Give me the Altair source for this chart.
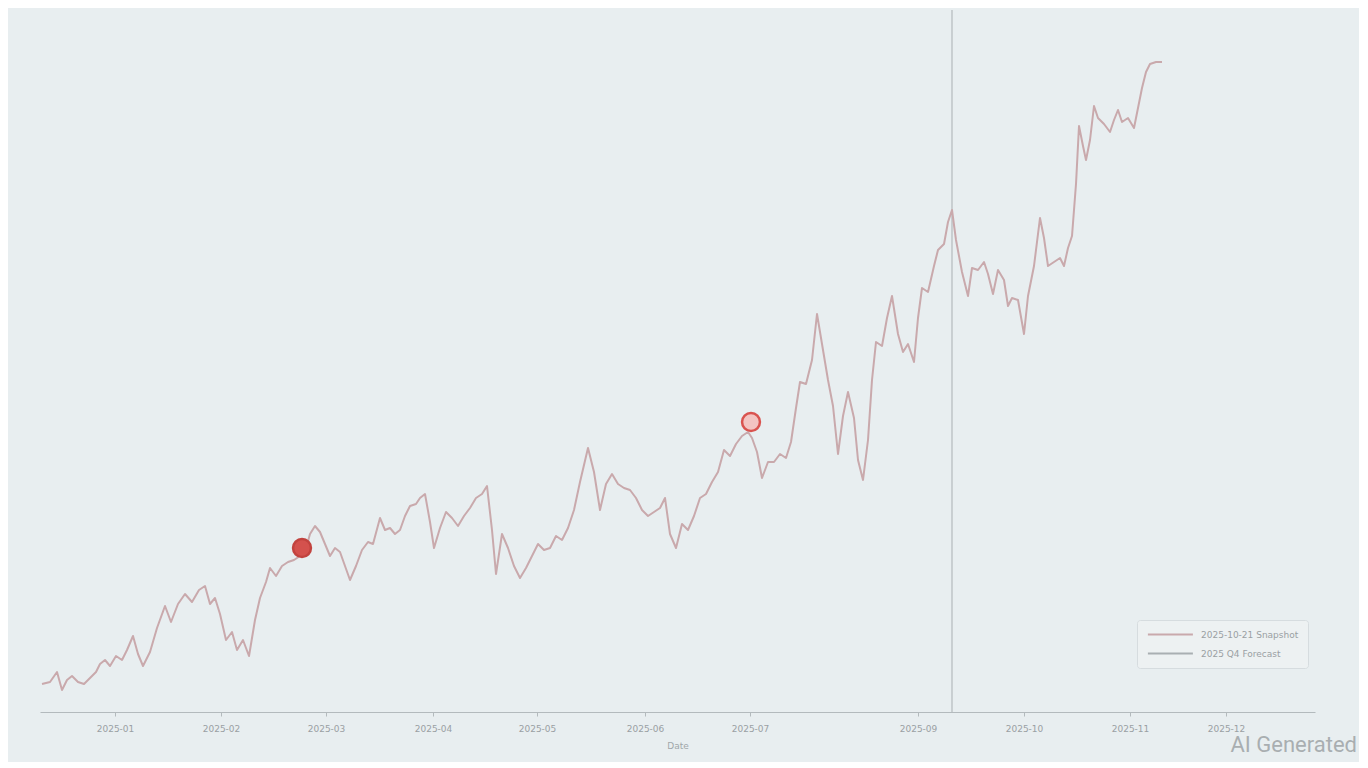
import altair as alt
import pandas as pd

# Series (x = day index, y = level)
xs = [2, 10, 17, 22, 27, 32, 38, 44, 50, 56, 60, 65, 70, 76, 82, 87, 93, 98, 103, 110,
      117, 125, 131, 138, 145, 152, 159, 165, 170, 175, 180, 186, 192, 197, 203, 209, 215, 220, 226, 230,
      236, 242, 248, 254, 260, 265, 270, 275, 280, 285, 290, 295, 300, 305, 310, 316, 322, 328, 333, 340,
      345, 350, 355, 360, 365, 370, 376, 380, 385, 390, 394, 400, 406, 412, 418, 424, 430, 436, 442, 447,
      452, 456, 462, 468, 474, 480, 486, 492, 498, 504, 510, 516, 522, 528, 534, 540, 548, 554, 560, 566,
      572, 578, 584, 590, 596, 602, 608, 614, 620, 625, 630, 636, 642, 648, 654, 660, 666, 672, 678, 684,
      690, 696, 702, 708, 712, 717, 722, 728, 734, 740, 746, 751, 756, 760, 766, 772, 777, 782, 788, 793,
      798, 803, 808, 814, 818, 823, 828, 832, 836, 842, 847, 852, 858, 863, 868, 874, 878, 882, 888, 894,
      898, 904, 908, 912, 916, 922, 928, 932, 938, 944, 948, 953, 958, 964, 968, 972, 978, 984, 988, 994,
      1000, 1004, 1008, 1014, 1020, 1024, 1028, 1032, 1036, 1039, 1043, 1046, 1050, 1054, 1058, 1064, 1070, 1074, 1078, 1082,
      1088, 1094, 1098, 1102, 1106, 1110, 1116, 1122]
ys = [28, 30, 40, 22, 32, 36, 30, 28, 34, 40, 48, 52, 46, 56, 52, 62, 76, 58, 46, 60,
      84, 106, 90, 108, 118, 110, 122, 126, 108, 114, 98, 72, 80, 62, 72, 56, 92, 114, 130, 144,
      136, 146, 150, 152, 156, 160, 178, 186, 180, 168, 156, 164, 160, 146, 132, 146, 162, 170, 168, 194,
      182, 184, 178, 182, 196, 206, 208, 214, 218, 190, 164, 184, 200, 194, 186, 196, 204, 214, 218, 226,
      182, 138, 178, 164, 146, 134, 144, 156, 168, 162, 164, 176, 172, 184, 202, 230, 264, 240, 202, 228,
      238, 228, 224, 222, 214, 202, 196, 200, 204, 214, 178, 164, 188, 182, 196, 214, 218, 230, 240, 262,
      256, 268, 276, 280, 274, 260, 234, 250, 250, 258, 254, 270, 304, 330, 328, 352, 398, 368, 332, 306,
      258, 296, 320, 294, 252, 232, 272, 332, 370, 366, 394, 416, 378, 360, 368, 350, 394, 424, 420, 446,
      462, 468, 490, 502, 472, 440, 416, 444, 442, 450, 438, 418, 442, 432, 406, 414, 412, 378, 416, 446,
      494, 474, 446, 450, 454, 446, 464, 476, 528, 586, 566, 552, 572, 606, 594, 588, 580, 592, 602, 590,
      594, 584, 604, 624, 640, 648, 650, 650]

marker_x = [262, 711]
marker_y = [164, 290]
marker_kind = ["filled", "ring"]

event_x = [912]

tick_values = [75, 181, 286, 393, 497, 605, 710, 878, 984, 1090, 1186]
tick_labels = ["2025-01", "2025-02", "2025-03", "2025-04", "2025-05", "2025-06",
               "2025-07", "2025-09", "2025-10", "2025-11", "2025-12"]

series_names = ["2025-10-21 Snapshot", "2025 Q4 Forecast"]

line_df = pd.DataFrame({"x": xs, "y": ys, "series": series_names[0]})
marker_df = pd.DataFrame({"x": marker_x, "y": marker_y, "kind": marker_kind})
rule_df = pd.DataFrame({"x": event_x, "series": series_names[1]})

label_map = "{" + ",".join(f"'{v}':'{l}'" for v, l in zip(tick_values, tick_labels)) + "}"

xscale = alt.Scale(domain=[0, 1275], nice=False, zero=False)
yscale = alt.Scale(domain=[0, 702], nice=False, zero=False)
color_scale = alt.Scale(domain=series_names, range=["#c9a9ac", "#a9afb2"])

line = alt.Chart(line_df).mark_line(strokeWidth=2, strokeJoin="round").encode(
    x=alt.X("x:Q", scale=xscale, title="Date",
            axis=alt.Axis(values=tick_values, labelExpr=f"{label_map}[datum.value]",
                          grid=False, domainColor="#b3babd", tickColor="#b3babd",
                          tickSize=4, labelColor="#9aa0a3", labelFontSize=9,
                          labelPadding=8, titleColor="#a0a6a9", titleFontSize=9,
                          titleFontWeight="normal", titlePadding=8)),
    y=alt.Y("y:Q", scale=yscale, axis=None),
    color=alt.Color("series:N", scale=color_scale,
                    legend=alt.Legend(title=None, orient="none", legendX=1097, legendY=610,
                                      symbolType="M-0.8,0L9.2,0", symbolSize=81, symbolStrokeWidth=2,
                                      labelOffset=44,
                                      labelFontSize=9, labelColor="#9aa0a3",
                                      padding=9, strokeColor="#d6dcdf", fillColor="#edf1f2",
                                      cornerRadius=3, rowPadding=8)),
)

rule = alt.Chart(rule_df).mark_rule(strokeWidth=1).encode(
    x="x:Q",
    color=alt.Color("series:N", scale=color_scale),
)

markers = alt.Chart(marker_df).mark_point(filled=True, size=320, strokeWidth=2.5, opacity=1).encode(
    x="x:Q",
    y="y:Q",
    fill=alt.Fill("kind:N", scale=alt.Scale(domain=["filled", "ring"], range=["#d4514d", "#f3c4c2"]), legend=None),
    stroke=alt.Stroke("kind:N", scale=alt.Scale(domain=["filled", "ring"], range=["#c2433f", "#d9534f"]), legend=None),
)

watermark = alt.Chart(pd.DataFrame({"t": ["AI Generated"]})).mark_text(
    align="right", baseline="middle", fontSize=22, font="Roboto", color="#a9aeb1"
).encode(x=alt.value(1317), y=alt.value(735), text="t:N")

chart = alt.layer(rule, line, markers, watermark).properties(
    width=1275, height=702,
    autosize=alt.AutoSizeParams(type="none"),
    padding={"left": 32, "top": 2, "right": 44, "bottom": 50},
    background="#e8eef0",
).configure_view(stroke=None).configure_axis(labelFont="DejaVu Sans", titleFont="DejaVu Sans"
).configure_legend(labelFont="DejaVu Sans")

chart.save("out.html", embed_options={"renderer": "svg", "actions": False})
